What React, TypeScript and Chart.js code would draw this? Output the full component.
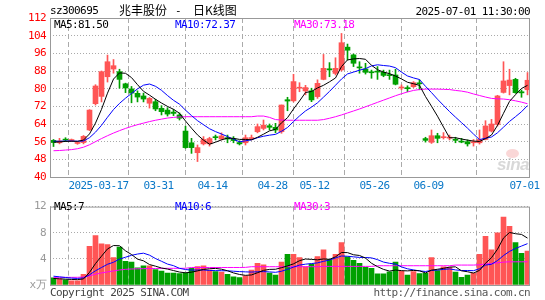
import React, { useEffect, useRef } from 'react';
import { Chart, registerables } from 'chart.js';

Chart.register(...registerables);

// ---------- data ----------
const dateTickIndex = [8, 18, 27, 37, 44, 54, 63, 79];
const dateTickLabels = ['2025-03-17', '03-31', '04-14', '04-28', '05-12', '05-26', '06-09', '07-01'];
const priceTicks = [40, 48, 56, 64, 72, 80, 88, 96, 104, 112];
const volumeTicks = [0, 4, 8, 12];

const opens = [56.6, 55.5, 57.0, 56.5, 55.2, 55.6, 61.3, 73.2, 76.5, 85.4,
  88.9, 87.7, 82.2, 79.9, 77.9, 76.7, 73.4, 74.1, 71.1, 70.3,
  69.4, 68.1, 60.8, 55.5, 51.0, 55.0, 55.0, 58.2, 57.2, 57.8,
  57.2, 55.6, 55.5, 57.4, 60.5, 62.0, 63.2, 62.5, 60.5, 75.0,
  74.5, 80.2, 79.0, 79.0, 76.4, 84.2, 89.0, 86.9, 88.5, 98.8,
  95.3, 89.8, 88.9, 87.6, 87.9, 87.4, 86.2, 86.2, 80.3, 80.4,
  80.9, 82.6, 57.4, 55.7, 58.7, 57.8, 57.6, 57.0, 56.2, 56.0,
  55.5, 55.5, 57.0, 60.8, 63.8, 78.3, 81.4, 84.2, 78.6, 79.5];

const highs = [57.0, 57.5, 57.8, 57.2, 56.0, 58.8, 70.5, 81.8, 88.0, 95.2,
  93.2, 88.8, 82.5, 81.0, 79.0, 78.0, 76.0, 75.2, 72.3, 71.4,
  70.6, 69.0, 63.0, 57.5, 54.5, 58.3, 58.0, 59.0, 60.0, 59.0,
  58.3, 56.4, 59.0, 59.0, 64.0, 65.8, 64.0, 64.3, 72.6, 76.1,
  86.5, 82.7, 81.5, 80.2, 84.0, 95.5, 91.8, 94.0, 105.0, 100.2,
  95.7, 92.2, 91.5, 88.4, 90.0, 88.4, 88.4, 88.8, 81.7, 81.3,
  83.2, 84.0, 58.0, 61.3, 59.8, 60.1, 59.0, 58.0, 57.5, 56.8,
  57.0, 61.3, 65.5, 66.1, 77.0, 92.2, 88.8, 84.7, 79.4, 87.3];

const lows = [53.8, 55.0, 56.0, 56.0, 54.8, 55.0, 61.0, 72.6, 74.0, 83.0,
  87.0, 80.2, 78.2, 73.6, 74.0, 74.0, 71.2, 70.0, 68.1, 67.6,
  67.8, 65.8, 53.0, 50.7, 47.0, 54.5, 54.0, 56.8, 56.8, 55.5,
  55.5, 54.5, 54.5, 56.8, 60.0, 61.3, 61.3, 60.0, 59.8, 70.0,
  74.0, 78.6, 77.2, 74.1, 75.6, 84.0, 85.4, 86.2, 88.0, 93.0,
  90.0, 87.0, 86.6, 84.7, 84.2, 85.4, 84.2, 81.7, 79.5, 78.6,
  80.5, 79.5, 55.8, 55.2, 55.5, 57.2, 56.8, 55.5, 55.5, 54.0,
  54.0, 54.9, 56.8, 60.4, 63.1, 78.0, 77.2, 77.9, 76.1, 77.2];

const closes = [55.6, 56.3, 56.7, 56.6, 55.6, 58.4, 70.3, 81.2, 87.7, 92.2,
  90.4, 84.2, 80.3, 78.0, 76.2, 75.3, 75.6, 70.8, 69.6, 68.5,
  68.8, 66.6, 53.3, 53.3, 53.3, 57.0, 57.4, 57.8, 58.6, 57.2,
  56.5, 55.0, 57.8, 57.8, 62.8, 63.5, 62.5, 61.3, 72.6, 74.4,
  83.2, 80.6, 80.5, 74.9, 82.4, 89.2, 88.5, 89.2, 100.8, 97.4,
  91.5, 89.4, 87.4, 87.2, 87.5, 86.0, 85.9, 82.0, 80.6, 80.0,
  82.7, 82.2, 56.6, 58.7, 57.5, 58.1, 58.0, 56.6, 55.8, 55.0,
  56.0, 57.0, 63.1, 64.0, 76.7, 83.5, 83.9, 78.2, 78.1, 83.8];

const ma5 = [55.8, 55.9, 56.1, 56.2, 56.16, 56.72, 59.52, 64.42, 70.64, 77.96,
  84.36, 87.14, 86.96, 85.02, 81.82, 78.8, 77.08, 75.18, 73.5, 71.96,
  70.66, 68.86, 65.36, 62.1, 59.06, 56.7, 54.86, 55.76, 56.82, 57.6,
  57.5, 57.02, 57.02, 56.86, 57.98, 59.38, 60.88, 61.58, 64.54, 66.86,
  70.8, 74.42, 78.26, 78.72, 80.32, 81.52, 83.1, 84.84, 90.02, 93.02,
  93.48, 93.66, 93.3, 90.58, 88.6, 87.5, 86.8, 85.72, 84.4, 82.9,
  82.24, 81.5, 76.42, 72.04, 67.54, 62.62, 57.78, 57.78, 57.2, 56.7,
  56.28, 56.08, 57.38, 59.02, 63.36, 68.86, 74.24, 77.26, 80.08, 81.5];

const ma10 = [56.2, 56.2, 56.3, 56.3, 56.2, 56.3, 57.8, 60.3, 63.4, 67.06,
  70.54, 73.33, 75.69, 77.83, 79.89, 81.58, 82.11, 81.07, 79.26, 76.89,
  74.73, 72.97, 70.27, 67.8, 65.51, 63.68, 61.86, 60.56, 59.46, 58.33,
  57.1, 55.94, 56.39, 56.84, 57.79, 58.44, 58.95, 59.3, 60.7, 62.42,
  65.09, 67.65, 69.92, 71.63, 73.59, 76.16, 78.76, 81.55, 84.37, 86.67,
  87.5, 88.38, 89.07, 90.3, 90.81, 90.49, 90.23, 89.51, 87.49, 85.75,
  84.87, 84.15, 81.07, 78.22, 75.22, 72.43, 69.64, 67.1, 64.62, 62.12,
  59.45, 56.93, 57.58, 58.11, 60.03, 62.57, 65.16, 67.32, 69.55, 72.37];

const ma30 = [51.9, 52.0, 52.2, 52.4, 52.8, 53.5, 54.6, 56.0, 57.4, 58.7,
  59.9, 61.0, 62.0, 62.9, 63.7, 64.4, 65.1, 65.7, 66.2, 66.7,
  67.0, 67.2, 67.3, 67.3, 67.3, 67.3, 67.3, 67.3, 67.3, 67.3,
  67.3, 67.3, 67.3, 67.3, 67.6, 67.6, 67.0, 66.0, 65.8, 65.7,
  65.7, 65.7, 65.7, 65.7, 65.7, 66.0, 66.6, 67.3, 68.1, 69.0,
  69.9, 70.8, 71.8, 72.8, 73.8, 74.8, 75.8, 76.8, 77.7, 78.5,
  79.2, 79.6, 79.8, 79.8, 79.8, 79.7, 79.6, 79.2, 78.9, 78.4,
  77.6, 76.9, 76.2, 75.6, 75.4, 75.3, 75.0, 74.5, 73.9, 73.18];

const volumes = [1.1, 0.93, 0.79, 0.64, 0.64, 1.64, 5.93, 7.55, 6.3, 6.2,
  4.21, 5.79, 3.64, 3.5, 2.64, 2.95, 2.93, 2.36, 2.12, 1.83,
  1.83, 1.74, 1.83, 2.55, 2.83, 2.93, 2.3, 2.07, 1.98, 1.64,
  1.26, 1.12, 1.4, 2.3, 3.3, 3.1, 1.83, 1.5, 3.5, 4.69,
  4.69, 4.21, 2.8, 3.2, 4.36, 5.4, 3.88, 4.7, 6.5, 4.3,
  3.79, 3.3, 2.69, 2.55, 1.7, 1.7, 2.0, 3.5, 2.1, 1.5,
  2.07, 1.75, 1.8, 4.21, 2.21, 2.79, 2.69, 1.98, 1.17, 1.5,
  1.83, 4.7, 7.45, 5.4, 8.0, 10.4, 8.97, 6.5, 4.83, 5.21];

const volMa5 = [1.0, 0.95, 0.9, 0.85, 0.82, 0.93, 1.93, 3.28, 4.41, 5.52,
  6.04, 6.01, 5.23, 4.67, 3.96, 3.7, 3.13, 2.88, 2.6, 2.44,
  2.21, 1.98, 1.87, 1.96, 2.16, 2.38, 2.49, 2.54, 2.42, 2.18,
  1.85, 1.61, 1.48, 1.54, 1.88, 2.24, 2.39, 2.41, 2.65, 2.92,
  3.24, 3.72, 3.98, 3.92, 3.85, 3.99, 3.93, 4.31, 4.97, 4.96,
  4.63, 4.52, 4.12, 3.33, 2.81, 2.39, 2.13, 2.29, 2.2, 2.16,
  2.23, 2.18, 1.84, 2.27, 2.41, 2.55, 2.74, 2.78, 2.17, 2.03,
  1.83, 2.24, 3.33, 4.18, 5.48, 7.19, 8.04, 7.85, 7.74, 7.18];

const volMa10 = [1.35, 1.25, 1.15, 1.05, 1.0, 1.09, 1.56, 2.18, 2.68, 3.17,
  3.48, 3.97, 4.25, 4.54, 4.74, 4.87, 4.57, 4.05, 3.63, 3.2,
  2.96, 2.55, 2.37, 2.28, 2.3, 2.3, 2.23, 2.2, 2.19, 2.17,
  2.11, 2.05, 2.01, 1.98, 2.03, 2.05, 2.0, 1.94, 2.1, 2.4,
  2.74, 3.05, 3.19, 3.28, 3.39, 3.62, 3.82, 4.14, 4.44, 4.4,
  4.31, 4.22, 4.21, 4.15, 3.88, 3.51, 3.32, 3.2, 2.76, 2.48,
  2.31, 2.16, 2.07, 2.23, 2.28, 2.39, 2.46, 2.31, 2.22, 2.22,
  2.19, 2.49, 3.05, 3.17, 3.75, 4.51, 5.14, 5.59, 5.96, 6.33];

const volMa30 = [1.17, 1.17, 1.17, 1.17, 1.18, 1.22, 1.4, 1.65, 1.85, 2.0,
  2.15, 2.3, 2.4, 2.45, 2.48, 2.5, 2.52, 2.53, 2.54, 2.55,
  2.55, 2.55, 2.56, 2.68, 2.68, 2.68, 2.68, 2.68, 2.68, 2.68,
  2.68, 2.68, 2.7, 2.8, 2.8, 2.8, 2.8, 2.8, 2.8, 2.8,
  2.8, 2.8, 2.8, 2.8, 2.8, 2.85, 2.85, 2.85, 2.85, 2.85,
  2.85, 2.85, 2.85, 2.85, 2.95, 2.95, 2.95, 2.95, 2.95, 2.95,
  2.95, 2.95, 2.95, 2.95, 2.95, 2.95, 2.95, 3.05, 3.05, 3.05,
  3.05, 3.1, 3.2, 3.3, 3.4, 3.5, 3.55, 3.55, 3.55, 3.55];

// ---------- styles ----------
const MONO = "'DejaVu Sans Mono', 'Liberation Mono', monospace";
const CJK = "'Noto Sans CJK SC', sans-serif";
const UP = '#ff5555';
const DOWN = '#00a000';
const BLUE_DATE = '#0a78c8';
const GRID = '#aaaaaa';
const FRAME = '#999999';

const N = opens.length;
const X_MIN = -0.5 - 1 / 12;
const X_MAX = N - 0.5 - 1 / 12;

const idx = opens.map((_, i) => i);
const candleColors = idx.map((i) => (closes[i] >= opens[i] ? UP : DOWN));

const framePlugin = {
  id: 'frame',
  beforeDraw(chart: any) {
    chart.ctx.letterSpacing = '-0.6px';
  },
  afterDraw(chart: any) {
    const { ctx, chartArea: a } = chart;
    ctx.save();
    ctx.setLineDash([]);
    ctx.strokeStyle = FRAME;
    ctx.lineWidth = 1;
    ctx.strokeRect(a.left + 0.5, a.top + 0.5, a.right - a.left - 1, a.bottom - a.top);
    ctx.restore();
  },
};

const lineDs = (values: number[], color: string) => ({
  type: 'line' as const,
  data: idx.map((i) => ({ x: i, y: values[i] })),
  borderColor: color,
  borderWidth: 1,
  pointRadius: 0,
  tension: 0,
  fill: false,
  order: 0,
});

const xScale = (height: number, showLabels: boolean) => ({
  type: 'linear',
  min: X_MIN,
  max: X_MAX,
  bounds: 'data',
  offset: false,
  afterBuildTicks: (s: any) => {
    s.ticks = dateTickIndex.map((i) => ({ value: i - 0.5 }));
  },
  afterFit: (s: any) => {
    s.height = height;
    s.paddingLeft = 0;
    s.paddingRight = 0;
  },
  ticks: {
    display: showLabels,
    autoSkip: false,
    maxRotation: 0,
    minRotation: 0,
    padding: 3,
    color: BLUE_DATE,
    font: { family: MONO, size: 11 },
    callback: (v: any) => {
      const k = dateTickIndex.indexOf(Math.round(Number(v) + 0.5));
      return k >= 0 ? dateTickLabels[k] : '';
    },
  },
  grid: { color: GRID, lineWidth: 1, drawTicks: false },
  border: { display: false, dash: [5, 3] },
});

function Label(props: { x: number; y: number; text: string; color?: string; size?: number; font?: string; right?: boolean; ls?: string }) {
  const { x, y, text, color = '#000', size = 11, font = MONO, right = false, ls = '-0.6px' } = props;
  const lh = size + 2;
  const style: any = {
    position: 'absolute',
    top: y - lh / 2,
    fontFamily: font,
    fontSize: size,
    lineHeight: `${lh}px`,
    color,
    whiteSpace: 'pre',
    letterSpacing: ls,
  };
  if (right) style.right = 545 - x;
  else style.left = x;
  return <div style={style}>{text}</div>;
}

export default function App() {
  const priceRef = useRef<HTMLCanvasElement | null>(null);
  const volRef = useRef<HTMLCanvasElement | null>(null);

  useEffect(() => {
    if (!priceRef.current || !volRef.current) return;
    Chart.defaults.font.family = MONO;

    const priceChart = new Chart(priceRef.current, {
      type: 'bar',
      data: {
        datasets: [
          lineDs(ma5, '#000000'),
          lineDs(ma10, '#0000ff'),
          lineDs(ma30, '#ff00ff'),
          {
            type: 'bar',
            data: idx.map((i) => ({ x: i, y: [opens[i], closes[i]] })),
            backgroundColor: candleColors,
            borderWidth: 0,
            barThickness: 5,
            minBarLength: 1,
            grouped: false,
            order: 1,
          } as any,
          {
            type: 'bar',
            data: idx.map((i) => ({ x: i, y: [lows[i], highs[i]] })),
            backgroundColor: candleColors,
            borderWidth: 0,
            barThickness: 1,
            minBarLength: 1,
            grouped: false,
            order: 2,
          } as any,
        ],
      } as any,
      options: {
        animation: false,
        responsive: false,
        maintainAspectRatio: false,
        events: [],
        layout: { padding: { top: 18, right: 15, left: 0, bottom: 0 } },
        plugins: { legend: { display: false }, tooltip: { enabled: false } },
        scales: {
          x: xScale(19, true) as any,
          y: {
            type: 'linear',
            min: 40,
            max: 112,
            bounds: 'data',
            afterBuildTicks: (s: any) => {
              s.ticks = priceTicks.map((v) => ({ value: v }));
            },
            afterFit: (s: any) => {
              s.width = 50;
            },
            ticks: { color: '#ff0000', font: { family: MONO, size: 11 }, padding: 4 },
            grid: { color: GRID, lineWidth: 1, drawTicks: false },
            border: { display: false, dash: [1, 2] },
          } as any,
        },
      },
      plugins: [framePlugin],
    });

    const volChart = new Chart(volRef.current, {
      type: 'bar',
      data: {
        datasets: [
          lineDs(volMa5, '#000000'),
          lineDs(volMa10, '#0000ff'),
          lineDs(volMa30, '#ff00ff'),
          {
            type: 'bar',
            data: idx.map((i) => ({ x: i, y: volumes[i] })),
            backgroundColor: candleColors,
            borderWidth: 0,
            barThickness: 5,
            grouped: false,
            order: 1,
          } as any,
        ],
      } as any,
      options: {
        animation: false,
        responsive: false,
        maintainAspectRatio: false,
        events: [],
        layout: { padding: { top: 5, right: 15, left: 0, bottom: 0 } },
        plugins: { legend: { display: false }, tooltip: { enabled: false } },
        scales: {
          x: xScale(15, false) as any,
          y: {
            type: 'linear',
            min: 0,
            max: 12,
            bounds: 'data',
            afterBuildTicks: (s: any) => {
              s.ticks = volumeTicks.map((v) => ({ value: v }));
            },
            afterFit: (s: any) => {
              s.width = 50;
            },
            ticks: {
              color: '#999999',
              font: { family: MONO, size: 11 },
              padding: 4,
              callback: (v: any) => (Number(v) === 0 ? 'x万' : String(v)),
            },
            grid: { color: GRID, lineWidth: 1, drawTicks: false },
            border: { display: false, dash: [1, 2] },
          } as any,
        },
      },
      plugins: [framePlugin],
    });

    return () => {
      priceChart.destroy();
      volChart.destroy();
    };
  }, []);

  const last = N - 1;
  return (
    <div style={{ position: 'fixed', left: 0, top: 0, width: 545, height: 300, background: '#fff', overflow: 'hidden' }}>
      <canvas ref={priceRef} width={545} height={196} style={{ position: 'absolute', left: 0, top: 0, width: 545, height: 196 }} />
      <canvas ref={volRef} width={545} height={104} style={{ position: 'absolute', left: 0, top: 196, width: 545, height: 104 }} />

      <Label x={50} y={10} text="sz300695" />
      <Label x={119} y={10} text="兆丰股份" font={CJK} size={12} ls="0px" />
      <Label x={175} y={10} text="-" />
      <Label x={193} y={10} text="日K线图" font={CJK} size={12} ls="0px" />
      <Label x={530} y={11} right text="2025-07-01 11:30:00" />

      <Label x={54} y={24} text={`MA5:${ma5[last].toFixed(2)}`} color="#000000" />
      <Label x={175} y={24} text={`MA10:${ma10[last].toFixed(2)}`} color="#0000ff" />
      <Label x={294} y={24} text={`MA30:${ma30[last].toFixed(2)}`} color="#ff00ff" />

      <Label x={54} y={206} text={`MA5:${Math.floor(volMa5[last])}`} color="#000000" />
      <Label x={175} y={206} text={`MA10:${Math.floor(volMa10[last])}`} color="#0000ff" />
      <Label x={294} y={206} text={`MA30:${Math.floor(volMa30[last])}`} color="#ff00ff" />

      <Label x={50} y={292} text="Copyright 2025 SINA.COM" color="#444444" />
      <Label x={530} y={292} right text="http://finance.sina.com.cn" color="#555555" />

      <div style={{ position: 'absolute', left: 506, top: 149, width: 13, height: 9, borderRadius: '50%', background: 'rgba(240,140,140,0.35)' }} />
      <div style={{ position: 'absolute', left: 497, top: 156, fontFamily: "'Liberation Sans', sans-serif", fontStyle: 'italic', fontWeight: 'bold', fontSize: 17, lineHeight: '17px', color: 'rgba(190,190,190,0.6)', letterSpacing: '-0.5px' }}>sina</div>
    </div>
  );
}
